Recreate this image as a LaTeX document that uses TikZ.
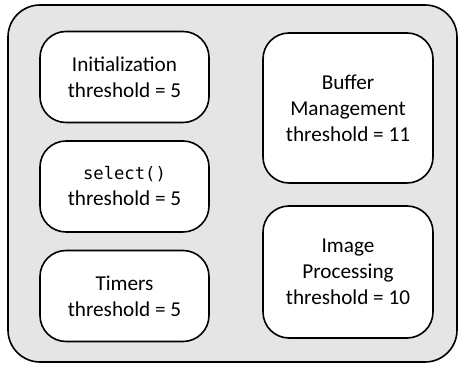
\documentclass[tikz,border=0pt]{standalone}
\usepackage{fontspec}
\setmainfont{Carlito}
\setmonofont{DejaVu Sans Mono}
\usetikzlibrary{positioning}

\begin{document}
\begin{tikzpicture}[x=0.5pt,y=-0.5pt,
    stage/.style={draw,line width=0.8pt,fill=white,rounded corners=13pt,
      align=center,inner sep=0pt,font=\fontsize{10.6}{13}\selectfont},
    leftstage/.style={stage,minimum width=84.5pt,minimum height=45.5pt},
    rightstage/.style={stage,minimum width=85pt}]
      \useasboundingbox (0,0) rectangle (460,367);
      \draw[line width=0.8pt,fill=black!10,rounded corners=16pt] (8,5) rectangle (457,362);

      \node[leftstage] (init) at (124.5,77) {Initialization\\threshold = 5};
      \node[leftstage] (sel) at (124.5,186.5) {{\fontsize{8.6}{13}\selectfont\ttfamily select()}\\threshold = 5};
      \node[leftstage] (timers) at (124.5,296) {Timers\\threshold = 5};

      \node[rightstage,minimum height=75pt] (buffer) at (348,108)
        {Buffer\\Management\\threshold = 11};
      \node[rightstage,minimum height=66pt] (image) at (348,272)
        {Image\\Processing\\threshold = 10};
    \end{tikzpicture}
\end{document}
